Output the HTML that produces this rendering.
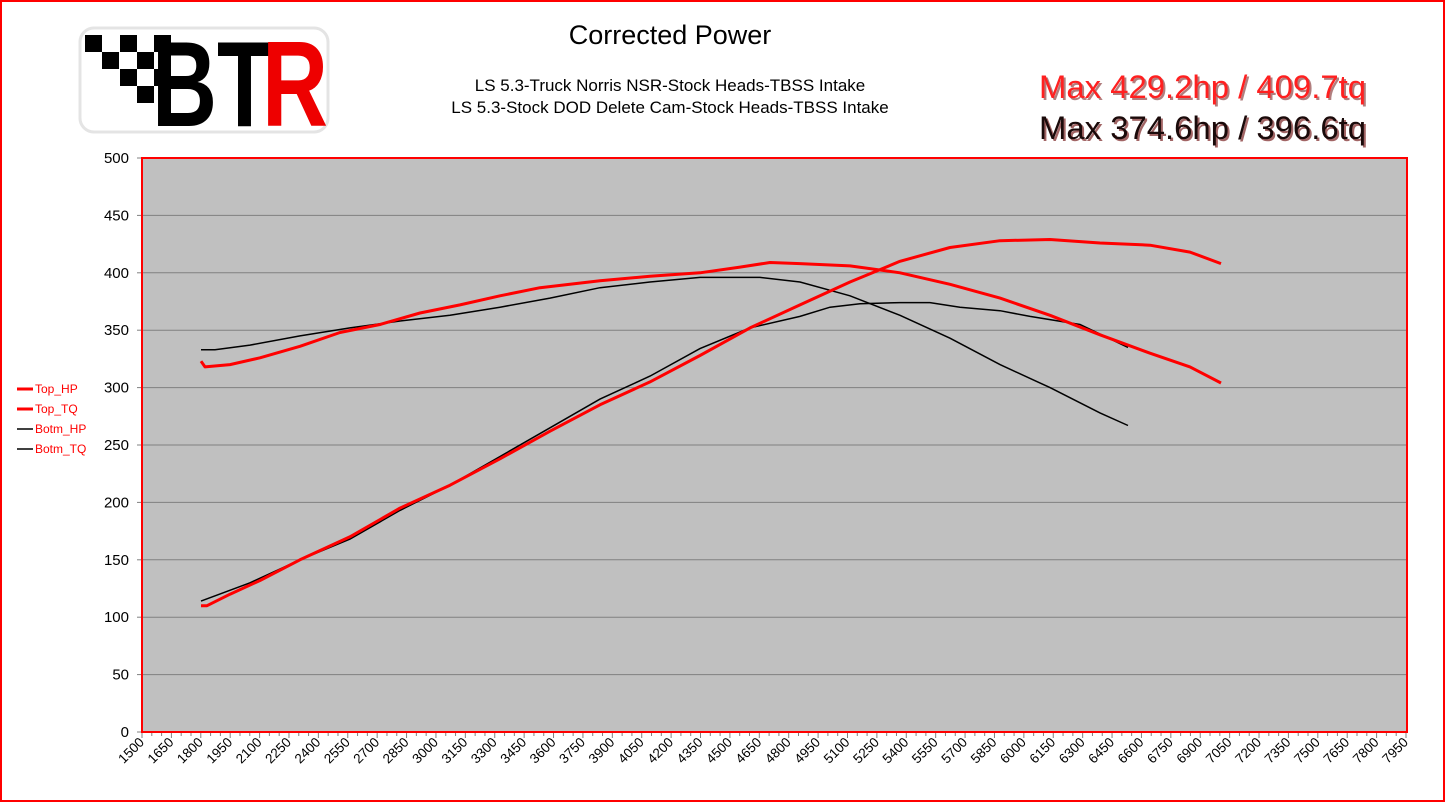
<!DOCTYPE html>
<html><head><meta charset="utf-8"><style>
html,body{margin:0;padding:0;background:#fff}
svg{display:block}
text{font-family:"Liberation Sans",Arial,sans-serif}
</style></head><body>
<svg id="s" width="1445" height="802" viewBox="0 0 1445 802" xmlns="http://www.w3.org/2000/svg">
<rect x="1" y="1" width="1443" height="800" fill="#fff" stroke="#ff0000" stroke-width="2"/>
<g>
<rect x="80" y="28" width="248" height="104" rx="14" fill="#fff" stroke="#e4e4e4" stroke-width="3"/>
<rect x="85" y="35" width="17" height="17" fill="#000"/>
<rect x="120" y="35" width="17" height="17" fill="#000"/>
<rect x="102" y="52" width="17" height="17" fill="#000"/>
<rect x="137" y="52" width="17" height="17" fill="#000"/>
<rect x="120" y="69" width="17" height="17" fill="#000"/>
<rect x="137" y="86" width="17" height="17" fill="#000"/>
<rect x="154" y="35" width="17" height="17" fill="#000"/>
<rect x="154" y="69" width="17" height="17" fill="#000"/>
<text x="152" y="126" font-size="122" font-weight="bold" fill="#000" textLength="120" lengthAdjust="spacingAndGlyphs">BT</text>
<text x="262" y="126" font-size="122" font-weight="bold" fill="#ee0000" textLength="66" lengthAdjust="spacingAndGlyphs">R</text>
</g>
<text x="670" y="44" font-size="27" text-anchor="middle" fill="#000">Corrected Power</text>
<text x="670" y="91" font-size="17" text-anchor="middle" fill="#000">LS 5.3-Truck Norris NSR-Stock Heads-TBSS Intake</text>
<text x="670" y="113" font-size="17" text-anchor="middle" fill="#000">LS 5.3-Stock DOD Delete Cam-Stock Heads-TBSS Intake</text>
<text x="1041" y="100" font-size="32" fill="#600" opacity="0.5" textLength="327" lengthAdjust="spacingAndGlyphs">Max 429.2hp / 409.7tq</text>
<text x="1039" y="98" font-size="32" fill="#ff2020" textLength="327" lengthAdjust="spacingAndGlyphs">Max 429.2hp / 409.7tq</text>
<text x="1041" y="141" font-size="32" fill="#600" opacity="0.6" textLength="327" lengthAdjust="spacingAndGlyphs">Max 374.6hp / 396.6tq</text>
<text x="1039" y="139" font-size="32" fill="#1a0a0a" textLength="327" lengthAdjust="spacingAndGlyphs">Max 374.6hp / 396.6tq</text>
<rect x="142" y="158" width="1265" height="574" fill="#c0c0c0"/>
<g id="grid"></g>
<g id="ylab"></g>
<g id="xax"></g>
<g id="series" fill="none"></g>
<rect x="142" y="158" width="1265" height="574" fill="none" stroke="#ff0000" stroke-width="2"/>
<g font-size="12">
<line x1="17" y1="389" x2="33" y2="389" stroke="#ff0000" stroke-width="3"/><text x="35" y="393" fill="#ff0000">Top_HP</text>
<line x1="17" y1="409" x2="33" y2="409" stroke="#ff0000" stroke-width="3"/><text x="35" y="413" fill="#ff0000">Top_TQ</text>
<line x1="17" y1="429" x2="33" y2="429" stroke="#000" stroke-width="1.5"/><text x="35" y="433" fill="#ff0000">Botm_HP</text>
<line x1="17" y1="449" x2="33" y2="449" stroke="#000" stroke-width="1.5"/><text x="35" y="453" fill="#ff0000">Botm_TQ</text>
</g>
</svg>
<script>
var NS="http://www.w3.org/2000/svg";
function el(p,t,a,txt){var e=document.createElementNS(NS,t);for(var k in a)e.setAttribute(k,a[k]);if(txt!=null)e.textContent=txt;document.getElementById(p).appendChild(e);return e;}
function Y(v){return 732-v*1.148;}
for(var v=0;v<=500;v+=50){var y=Y(v);
 if(v>0&&v<500) el("grid","line",{x1:142,x2:1407,y1:y,y2:y,stroke:"#808080","stroke-width":1});
 el("grid","line",{x1:137,x2:142,y1:y,y2:y,stroke:"#808080"});
 el("ylab","text",{x:129,y:y+5,"font-size":15,"text-anchor":"end",fill:"#000"},String(v));}
var px=1264/6450;
for(var r=1500;r<=7950;r+=50){var x=142+(r-1500)*px;
 el("xax","line",{x1:x,x2:x,y1:732,y2:(r%150==0?738:736),stroke:"#808080"});
 if((r-1500)%150==0){el("xax","text",{x:0,y:0,"font-size":13.5,"text-anchor":"end",fill:"#000",transform:"translate("+(x+3)+",743) rotate(-45)"},String(r));}}
function pts(a){var s=[];for(var i=0;i<a.length;i+=2)s.push(a[i]+","+Y(a[i+1]).toFixed(1));return s.join(" ");}
var bhp=[201,114,250,130,300,150,350,168,400,193,450,215,500,240,550,265,600,290,650,310,700,334,750,352,800,362,830,370,860,373,900,374,930,374,960,370,1000,367,1030,362,1080,355,1128,335];
var btq=[201,333,215,333,250,337,300,345,350,352,400,358,450,363,500,370,550,378,600,387,650,392,700,396,760,396,800,392,850,380,900,363,950,343,1000,320,1050,300,1100,278,1128,267];
var thp=[201,110,207,110,230,120,260,132,300,150,350,170,400,195,450,215,500,238,550,262,600,285,650,305,700,328,750,352,800,372,850,392,900,410,950,422,1000,428,1050,429,1100,426,1150,424,1190,418,1221,408];
var ttq=[201,323,205,318,230,320,260,326,300,336,340,348,380,355,420,365,460,372,500,380,540,387,600,393,650,397,700,400,740,405,770,409,800,408,850,406,900,400,950,390,1000,378,1050,363,1100,346,1150,330,1190,318,1221,304];
el("series","polyline",{points:pts(bhp),stroke:"#000","stroke-width":1.5,fill:"none"});
el("series","polyline",{points:pts(btq),stroke:"#000","stroke-width":1.5,fill:"none"});
el("series","polyline",{points:pts(thp),stroke:"#ff0000","stroke-width":3,fill:"none","stroke-linejoin":"round"});
el("series","polyline",{points:pts(ttq),stroke:"#ff0000","stroke-width":3,fill:"none","stroke-linejoin":"round"});
</script>
</body></html>
